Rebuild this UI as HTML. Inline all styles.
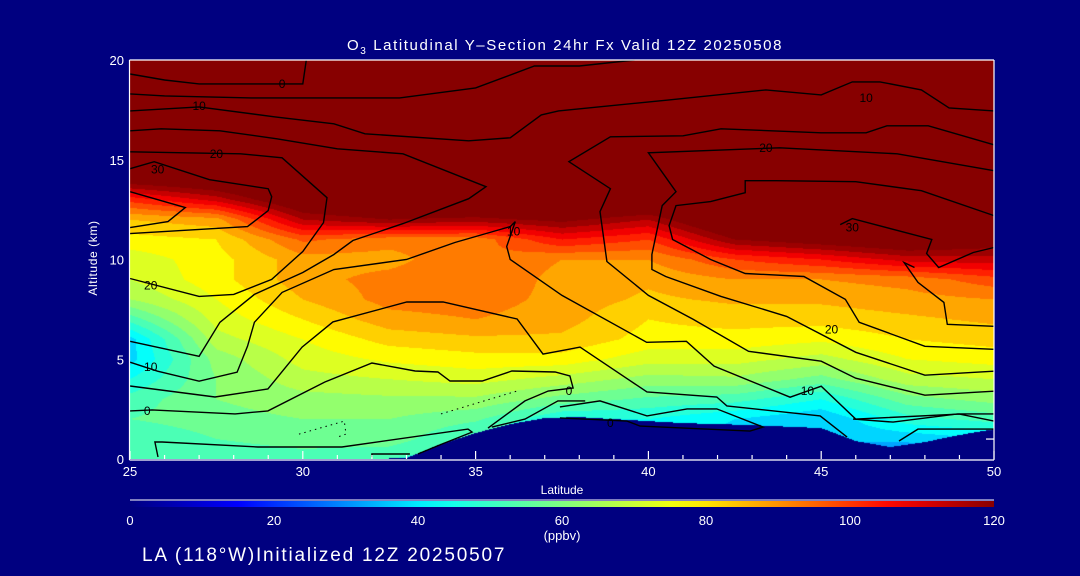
<!DOCTYPE html>
<html><head><meta charset="utf-8">
<style>
html,body{margin:0;padding:0;background:#000080;}
#wrap{position:relative;width:1080px;height:576px;overflow:hidden;background:#000080;font-family:"Liberation Sans",sans-serif;color:#fff;}
canvas{position:absolute;left:130px;top:60px;}
svg{position:absolute;left:0;top:0;}
</style></head><body>
<div id="wrap">
<canvas id="field" width="864" height="399"></canvas>
<svg id="ov" width="1080" height="576">
<defs><linearGradient id="cb" x1="0" x2="1" y1="0" y2="0"></linearGradient></defs>
<text x="565" y="50" text-anchor="middle" font-size="15" letter-spacing="1.6" fill="#fff">O<tspan font-size="10" dy="4">3</tspan><tspan dy="-4"> Latitudinal Y–Section 24hr  Fx Valid 12Z 20250508</tspan></text>
<text x="562" y="494" text-anchor="middle" font-size="12" fill="#fff">Latitude</text>
<text transform="translate(97,258) rotate(-90)" text-anchor="middle" font-size="12" letter-spacing="0.6" fill="#fff">Altitude (km)</text>
<text x="562" y="540" text-anchor="middle" font-size="13" fill="#fff">(ppbv)</text>
<text x="142" y="561" font-size="19" letter-spacing="1.8" fill="#fff">LA (118°W)Initialized 12Z 20250507</text>
<g id="contours"></g>
<g id="axes"></g>
<g id="cbar"></g>
</svg>
</div>
<script>
// ---- data ----
const lats = [25, 27.5, 30, 32.5, 35, 37.5, 40, 42.5, 45, 47.5, 50];
const alts = [0,1,2,3,4,5,6,7,8,9,10,11,12,13,14,15,16,17,18,19,20];
const o3_25   = [50,50,55,52,45,38,38,52,65,70,72,78,85,102,125,140,140,140,140,140,140];
const o3_27_5 = [50,55,58,60,60,62,68,72,75,78,78,80,88,112,130,140,140,140,140,140,140];
const o3_30   = [52,58,60,63,68,72,75,80,85,88,88,96,115,130,140,140,140,140,140,140,140];
const o3_32_5 = [50,58,60,64,70,76,82,88,92,92,88,92,120,135,140,140,140,140,140,140,140];
const o3_35   = [45,48,56,64,72,78,84,90,93,95,95,92,118,135,140,140,140,140,140,140,140];
const o3_37_5 = [40,40,45,58,68,78,84,87,88,88,90,105,122,138,140,140,140,140,140,140,140];
const o3_40   = [40,40,45,54,63,72,78,80,84,86,90,100,115,135,140,140,140,140,140,140,140];
const o3_42_5 = [38,38,40,52,64,72,78,82,86,90,100,120,135,140,140,140,140,140,140,140,140];
const o3_45   = [35,35,35,45,58,68,76,82,86,90,105,125,138,140,140,140,140,140,140,140,140];
const o3_47_5 = [30,36,48,58,68,75,80,84,88,92,112,130,140,140,140,140,140,140,140,140,140];
const o3_50   = [30,40,52,62,70,77,82,86,90,98,113,125,138,140,140,140,140,140,140,140,140];
const o3Cols = [o3_25,o3_27_5,o3_30,o3_32_5,o3_35,o3_37_5,o3_40,o3_42_5,o3_45,o3_47_5,o3_50];
const terrainLats = [25,26,27,28,29,30,31,32,33,34,35,36,37,38,39,40,41,42,43,44,45,46,47,48,49,50];
const terrainKm   = [0,0,0,0,0,0,0,0,0.05,0.75,1.3,1.75,2.05,2.1,2.0,1.9,1.8,1.75,1.7,1.62,1.55,0.9,0.6,0.85,1.2,1.5];
const contour1 = [[25,19.3],[26,19.0],[27,18.8],[30,18.8],[30.1,20]];
const contour2 = [[25,18.3],[26,18.2],[28.5,18.1],[32.8,18.1],[35,18.6],[36.7,19.7],[38,19.7],[39.6,20]];
const contour3 = [[25,17.45],[27,17.65],[29.2,17.15],[30.9,16.8],[31.8,16.3],[34.8,15.95],[36,16.1],[36.9,17.25],[37.4,17.45],[40.6,18],[43.4,18.5],[45,18.25],[45.9,18.9],[46.7,18.9],[47.9,18.5],[48.7,17.6],[50,17.45]];
const contour4 = [[25,16.45],[25.9,16.55],[27.6,16.45],[29.25,16.05],[31,15.55],[32.9,15.3],[35.3,13.65],[34.8,13.05],[32.9,11.8],[31.45,10.95],[30.9,10.25],[30,9.35],[28.6,8.25],[27.6,6.85],[27,5.15],[25,5.9]];
const contour5 = [[25,9.05],[27,8.15],[28,8.25],[29.1,9],[30,10.4],[30.6,11.85],[30.7,13.1],[29.4,15.1],[28.2,15.3],[25,15.4]];
const contour6 = [[25,14.55],[25.7,14.9],[27.3,14],[29,13.55],[29.1,13.15],[29,12.45],[28.4,11.65],[25,11.3]];
const contour7 = [[25,13.4],[26.6,12.6],[26.1,11.9],[25,11.6]];
const contour8 = [[50,15.75],[48.1,16.7],[46.9,16.7],[46.3,16.35],[45,16.35],[42.1,16.55],[41,16.2],[38.9,16.15],[37.7,14.9],[38.9,13.55],[38.6,12.4],[38.8,9.9],[40,8.2],[41.3,7.0],[42.9,5.4],[45,4.9],[46,4.05],[48,3.2],[50,3.4]];
const contour9 = [[50,14.45],[47.2,15.3],[43.8,15.6],[40,15.35],[40.8,13.4],[40.4,12.7],[40.1,10.25],[40.1,9.5],[40.5,9.15],[42.1,8.15],[44,7.15],[46,5.35],[48,4.2],[50,4.4]];
const contour10 = [[50,12.2],[47.9,13.45],[46,13.9],[43.7,13.95],[42.8,13.95],[42.8,13.35],[41.8,12.9],[40.8,12.7],[40.6,11.7],[40.7,11],[41.8,10],[42.8,9.3],[44.5,9.15],[45.7,8],[46.1,6.85],[48,5.65],[50,5.5]];
const contour11 = [[45.55,11.75],[45.9,12.05],[48.2,11.0],[48.05,10.3],[48.4,9.6],[49.4,10.35],[50,10.6]];
const contour12 = [[47.7,9.6],[47.4,9.85],[47.8,8.85],[48.55,7.85],[48.65,6.75],[50,6.65]];
const contour13 = [[25,4.85],[25.8,4.4],[27,3.9],[28.1,4.35],[28.4,5.65],[28.6,6.85],[29.4,8.35],[30.9,9.5],[33,10],[34.4,10.85],[36,11.65],[36.15,11.9],[35.9,10.65],[36,10],[37.5,8.2],[39.95,5.85],[41.1,5.9],[41.9,4.65],[44.1,3.1],[45,3.65],[46,2.0],[49,2.25],[50,1.9]];
const contour14 = [[25,3.66],[27.46,3.11],[28.99,3.51],[29.98,5.61],[30.87,6.87],[33.01,7.87],[34.06,7.87],[36.2,7.02],[36.95,5.26],[37.73,5.51],[38.02,5.61],[39.96,3.36],[41.98,3.11],[42.27,2.66],[44.97,2.16],[45.75,1.1]];
const contour15 = [[25,2.41],[25.64,2.46],[28.04,2.26],[28.99,2.41],[30.64,3.86],[32.0,4.81],[33.25,4.41],[33.91,4.36],[34.26,3.91],[35.19,3.91],[36.05,4.41],[37.3,4.36],[37.73,4.16],[37.82,3.56],[37.1,3.41],[36.43,2.91],[35.36,1.55]];
const contour16 = [[38.17,2.91],[37.38,2.91],[36.43,2.0],[35.47,1.6]];
const contour17 = [[37.44,2.61],[38.6,2.91],[39.96,2.16],[41.12,2.51],[41.98,2.51],[43.32,1.6],[42.94,1.4],[39.76,1.65],[39.38,1.9],[37.44,2.06]];
const contour18 = [[25.81,0.1],[25.72,0.85],[25.93,0.85],[28.7,0.6],[31.13,0.6],[34.78,1.5],[34.9,1.35],[34.03,0.75],[33.33,0.25]];
const contour19 = [[32.0,0.1],[32.0,0.25],[33.1,0.25]];
const contour20 = [[45.92,2.0],[47.08,1.85],[48.94,2.26],[50,2.26]];
const contour21 = [[47.25,0.9],[47.8,1.5],[50,1.5]];
const dotted1 = [[29.89,1.25],[30.9,1.75],[31.2,1.9],[31.25,1.25],[31.0,1.1]];
const dotted2 = [[34.0,2.26],[36.2,3.41]];
const contourLines = [contour1,contour2,contour3,contour4,contour5,contour6,contour7,contour8,contour9,contour10,contour11,contour12,contour13,contour14,contour15,contour16,contour17,contour18,contour19,contour20,contour21];
const dottedLines = [dotted1,dotted2];
const labelText = ["0","10","20","30","20","10","10","20","20","30","10","0","0","10","0"];
const labelLat  = [29.4,27.0,27.5,25.8,25.6,25.6,36.1,43.4,45.3,45.9,46.3,25.5,37.7,44.6,38.9];
const labelKm   = [18.8,17.7,15.3,14.5,8.7,4.6,11.4,15.6,6.5,11.6,18.1,2.4,3.4,3.4,1.8];
const xTicks = [25,30,35,40,45,50];
const yTicks = [0,5,10,15,20];
const cbTicks = [0,20,40,60,80,100,120];
// ---- scales ----
const X0=130, X1=994, Y0=459, Y1=60;
const xs = lat => X0 + (lat-25)/25*(X1-X0);
const ys = km => Y0 - km/20*(Y0-Y1);
const cmapStops = [[0,[0,0,128]],[15,[0,0,255]],[42,[0,255,255]],[60,[128,255,128]],[77,[255,255,0]],[92,[255,128,0]],[106,[255,0,0]],[120,[135,0,0]]];
function cmap(v){
  if(v<=0) return cmapStops[0][1];
  if(v>=120) return cmapStops[cmapStops.length-1][1];
  for(let i=1;i<cmapStops.length;i++){
    if(v<=cmapStops[i][0]){const a=cmapStops[i-1],b=cmapStops[i],t=(v-a[0])/(b[0]-a[0]);
      return [0,1,2].map(k=>Math.round(a[1][k]+(b[1][k]-a[1][k])*t));}
  }
}
function terrainAt(lat){
  const i=Math.min(terrainLats.length-2,Math.max(0,Math.floor(lat-25)));
  const t=(lat-terrainLats[i]);return terrainKm[i]+(terrainKm[i+1]-terrainKm[i])*t;
}
function o3At(lat,km){
  let fi=(lat-25)/2.5; let i=Math.min(lats.length-2,Math.max(0,Math.floor(fi))); let tx=fi-i;
  let j=Math.min(alts.length-2,Math.max(0,Math.floor(km))); let ty=km-j;
  const a=o3Cols[i][j],b=o3Cols[i+1][j],c=o3Cols[i][j+1],d=o3Cols[i+1][j+1];
  return (a*(1-tx)+b*tx)*(1-ty)+(c*(1-tx)+d*tx)*ty;
}
// ---- field ----
const cv=document.getElementById('field');const ctx=cv.getContext('2d');
const W=cv.width,H=cv.height;const img=ctx.createImageData(W,H);
for(let py=0;py<H;py++){for(let px=0;px<W;px++){
  const lat=25+(px+0.5)/(X1-X0)*25; const km=(Y0-(60+py+0.5))/(Y0-Y1)*20;
  let col;
  if(km<terrainAt(lat)) col=[0,0,128];
  else {const v=Math.floor(o3At(lat,km)/5)*5+2.5; col=cmap(v);}
  const k=(py*W+px)*4; img.data[k]=col[0];img.data[k+1]=col[1];img.data[k+2]=col[2];img.data[k+3]=255;
}}
ctx.putImageData(img,0,0);
// ---- contours ----
const NS='http://www.w3.org/2000/svg';
const cg=document.getElementById('contours');
contourLines.forEach((ln,idx)=>{
  const p=document.createElementNS(NS,'polyline');
  p.setAttribute('points',ln.map(q=>xs(q[0]).toFixed(1)+','+ys(q[1]).toFixed(1)).join(' '));
  p.setAttribute('fill','none');p.setAttribute('stroke','#000');p.setAttribute('stroke-width','1.4');
  
  
  cg.appendChild(p);
});
dottedLines.forEach(ln=>{
  const p=document.createElementNS(NS,'polyline');
  p.setAttribute('points',ln.map(q=>xs(q[0]).toFixed(1)+','+ys(q[1]).toFixed(1)).join(' '));
  p.setAttribute('fill','none');p.setAttribute('stroke','#000');p.setAttribute('stroke-width','1');p.setAttribute('stroke-dasharray','1.5 4');
  
  
  cg.appendChild(p);
});
labelText.forEach((t,i)=>{
  const e=document.createElementNS(NS,'text');
  e.setAttribute('x',xs(labelLat[i]));e.setAttribute('y',ys(labelKm[i])+4);
  e.setAttribute('font-size','12');e.setAttribute('fill','#000');e.setAttribute('text-anchor','middle');
  e.textContent=t;
  
  
  cg.appendChild(e);
});
// ---- axes ----
const ag=document.getElementById('axes');
function line(x1,y1,x2,y2,name){const l=document.createElementNS(NS,'line');
  l.setAttribute('x1',x1);l.setAttribute('y1',y1);l.setAttribute('x2',x2);l.setAttribute('y2',y2);
  l.setAttribute('stroke','#fff');l.setAttribute('stroke-width','1.2');
  
  
  ag.appendChild(l);}
line(X0-0.5,Y1,X0-0.5,Y0+1,'left-axis');line(X1,Y1,X1,Y0+1,'right-axis');
line(X0-0.5,Y1,X1,Y1,'top-axis');line(X0-0.5,Y0+1,X1,Y0+1,'bottom-axis');
for(let d=26;d<50;d++){ if(d%5) line(xs(d),Y0,xs(d),Y0-4,'x-minor-tick'); }
xTicks.forEach(v=>{line(xs(v),Y0,xs(v),Y0-8,'x-major-tick');
  const t=document.createElementNS(NS,'text');t.setAttribute('x',xs(v));t.setAttribute('y',476);
  t.setAttribute('text-anchor','middle');t.setAttribute('font-size','13');t.setAttribute('fill','#fff');t.textContent=v;
  
  
  ag.appendChild(t);});
line(X1,ys(1),X1-8,ys(1),'y-tick');
yTicks.forEach(v=>{
  const t=document.createElementNS(NS,'text');t.setAttribute('x',124);t.setAttribute('y',ys(v)+5);
  t.setAttribute('text-anchor','end');t.setAttribute('font-size','13');t.setAttribute('fill','#fff');t.textContent=v;
  
  
  ag.appendChild(t);});
// ---- colorbar ----
const grad=document.getElementById('cb');
for(let v=0;v<=120;v+=5){const s=document.createElementNS(NS,'stop');const c=cmap(v);
  s.setAttribute('offset',(v/120*100)+'%');s.setAttribute('stop-color','rgb('+c.join(',')+')');grad.appendChild(s);}
const cb=document.getElementById('cbar');
const r=document.createElementNS(NS,'rect');r.setAttribute('x',X0);r.setAttribute('y',501);r.setAttribute('width',X1-X0);r.setAttribute('height',6);r.setAttribute('fill','url(#cb)');


cb.appendChild(r);
const wl=document.createElementNS(NS,'line');wl.setAttribute('x1',X0);wl.setAttribute('x2',X1);wl.setAttribute('y1',500);wl.setAttribute('y2',500);wl.setAttribute('stroke','#fff');


cb.appendChild(wl);
cbTicks.forEach(v=>{const t=document.createElementNS(NS,'text');t.setAttribute('x',X0+v/120*(X1-X0));t.setAttribute('y',525);
  t.setAttribute('text-anchor','middle');t.setAttribute('font-size','13');t.setAttribute('fill','#fff');t.textContent=v;
  
  
  cb.appendChild(t);});
</script>
</body></html>
